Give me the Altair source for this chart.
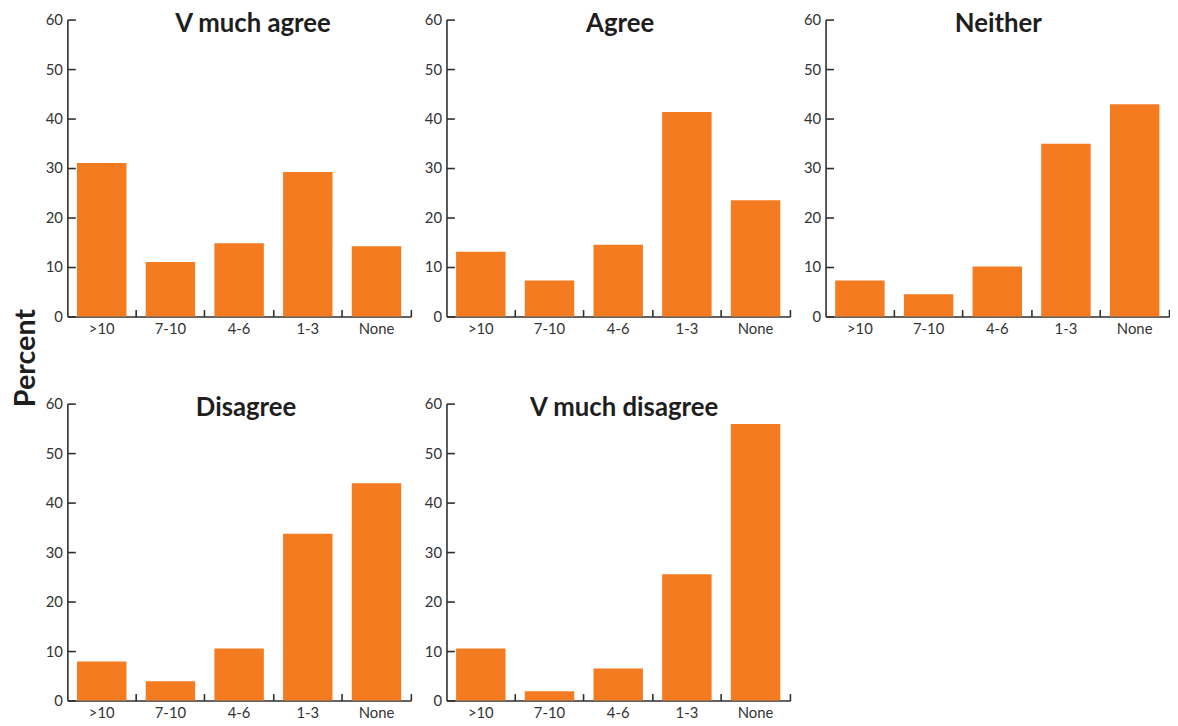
import altair as alt
import pandas as pd

categories = [">10", "7-10", "4-6", "1-3", "None"]
groups = ["V much agree", "Agree", "Neither", "Disagree", "V much disagree"]
v_much_agree = [31.0, 11.0, 14.8, 29.2, 14.2]
agree = [13.1, 7.3, 14.5, 41.3, 23.5]
neither = [7.3, 4.5, 10.1, 34.9, 42.9]
disagree = [7.9, 3.9, 10.5, 33.7, 43.9]
v_much_disagree = [10.5, 1.9, 6.5, 25.5, 55.9]
y_ticks = [0, 10, 20, 30, 40, 50, 60]

ORANGE = "#F47B20"
FONT = "Lato"
AXIS = "#2e2e2e"
W, H = 347, 300


def panel(title, values, dx=0):
    df = pd.DataFrame({"category": categories, "percent": values})
    xscale = alt.Scale(domain=categories, paddingInner=0, paddingOuter=0)
    yscale = alt.Scale(domain=[0, 60], nice=False)
    bars = alt.Chart(df).mark_bar(color=ORANGE, width=alt.RelativeBandSize(0.72)).encode(
        x=alt.X("category:N", sort=categories, scale=xscale,
                axis=alt.Axis(title=None, ticks=False, labelAngle=0, labelPadding=5,
                              domain=True, orient="bottom")),
        y=alt.Y("percent:Q", scale=yscale,
                axis=alt.Axis(title=None, ticks=False, values=y_ticks, labelPadding=5,
                              domain=True, orient="left")),
    )
    ghost = alt.Chart(df).mark_bar(opacity=0).encode(
        x=alt.X("category:N", sort=categories, scale=xscale,
                axis=alt.Axis(title=None, orient="bottom", offset=-7, tickSize=7,
                              bandPosition=1, labels=False, domain=False)),
        y=alt.Y("percent:Q", scale=yscale,
                axis=alt.Axis(title=None, orient="left", offset=-8, tickSize=8,
                              values=y_ticks, labels=False, domain=False)),
    )
    head = alt.Chart(pd.DataFrame({"panel": [title]})).mark_text(
        font=FONT, fontSize=26, fontWeight="bold", color="#1e1e1e",
        align="center", baseline="alphabetic",
    ).encode(
        text="panel:N",
        x=alt.value(W / 2 + dx),
        y=alt.value(13),
    )
    return alt.layer(bars, ghost, head).resolve_axis(
        x="independent", y="independent"
    ).properties(width=W, height=H)


p1 = panel(groups[0], v_much_agree, dx=14)
p2 = panel(groups[1], agree, dx=2)
p3 = panel(groups[2], neither, dx=1)
p4 = panel(groups[3], disagree, dx=7)
p5 = panel(groups[4], v_much_disagree, dx=6)

row1 = alt.hconcat(p1, p2, p3, spacing=12)
row2 = alt.hconcat(p4, p5, spacing=12)

chart = alt.vconcat(row1, row2, spacing=60).properties(
    title=alt.TitleParams("Percent", orient="left", anchor="middle", fontSize=29,
                          font=FONT, fontWeight="bold", color="#1e1e1e", offset=4, dx=8),
    padding={"left": 4, "top": 0, "right": 0, "bottom": 0},
).configure_view(stroke=None).configure_axis(
    domainColor=AXIS, domainWidth=1.6, tickColor=AXIS, tickWidth=1.6,
    labelFont=FONT, labelFontSize=15, labelColor="#333333", grid=False,
)

chart.save("out.html", embed_options={"renderer": "svg", "actions": False})
